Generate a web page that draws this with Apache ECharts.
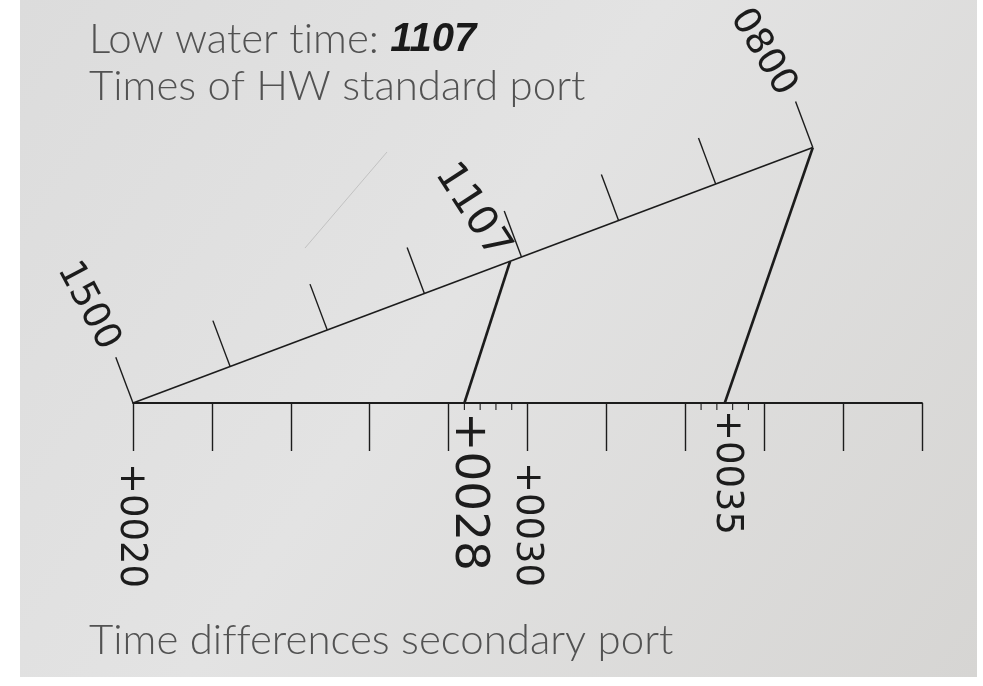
<!DOCTYPE html>
<html>
<head>
<meta charset="utf-8">
<script src="https://cdn.jsdelivr.net/npm/echarts@6/dist/echarts.min.js"></script>
<style>
  html, body { margin: 0; padding: 0; background: #fff; }
  #chart { width: 983px; height: 686px; }
</style>
</head>
<body>
<div id="chart"></div>
<script>
  // bottom scale: time differences at the secondary port (minutes)
  var diffMin = 20
  var diffMax = 40
  var diffStep = 2
  var diffMinorTicks = [28.4, 28.8, 29.2, 29.6, 34.4, 34.8, 35.2, 35.6]
  var diffLabelValues = [20, 28.4, 30, 35]
  var diffLabelTexts = ['+0020', '+0028', '+0030', '+0035']

  // slanted scale: times of HW at the standard port (hours)
  var hwTickHours = [15, 14, 13, 12, 11, 10, 9, 8]
  var hwLabelHours = [15, 11 + 7 / 60, 8]
  var hwLabelTexts = ['1500', '1107', '0800']

  // construction lines: HW time -> time difference
  var linkHours = [8, 11 + 7 / 60]
  var linkDiffs = [35, 28.4]

  // layout of the slanted scale (angle, length per hour in axis units)
  var HW_ANGLE = 20.6 * Math.PI / 180
  var HW_STEP = 2.63
  var INK = '#1c1c1c'
  var FONT = 'DejaVu Sans'
  var ZWNJ = '\u200C' // stops Lato from joining "ti" / "ff"

  function hwPoint (h) {
    var d = (hwTickHours[0] - h) * HW_STEP
    return [diffMin + d * Math.cos(HW_ANGLE), d * Math.sin(HW_ANGLE)]
  }

  // label styling (kept apart from the data)
  var diffLabelStyle = [
    {dx: -2, dy: 60, size: 37},
    {dx: 4, dy: 9, size: 47},
    {dx: -1, dy: 59, size: 37},
    {dx: 2, dy: 7, size: 37}
  ]
  var hwLabelStyle = [
    {dx: -45, dy: -97, size: 37, rot: -62},
    {dx: -38, dy: -50, size: 41, rot: -57},
    {dx: -50, dy: -95, size: 37, rot: -59}
  ]

  var chart = echarts.init(document.getElementById('chart'))

  var series = []

  // slanted HW line
  series.push({
    type: 'line',
    data: [hwPoint(hwTickHours[0]), hwPoint(hwTickHours[hwTickHours.length - 1])],
    symbol: 'none',
    lineStyle: {color: INK, width: 1.6},
    silent: true,
    z: 3
  })

  // construction lines
  linkHours.forEach(function (h, i) {
    series.push({
      type: 'line',
      data: [hwPoint(h), [linkDiffs[i], 0]],
      symbol: 'none',
      lineStyle: {color: INK, width: 2.6},
      silent: true,
      z: 4
    })
  })

  // ticks on slanted scale
  series.push({
    type: 'custom',
    data: hwTickHours.map(hwPoint),
    renderItem: function (params, api) {
      var p = api.coord([api.value(0), api.value(1)])
      var len = 49
      return {
        type: 'line',
        shape: {x1: p[0], y1: p[1], x2: p[0] - len * Math.sin(HW_ANGLE), y2: p[1] - len * Math.cos(HW_ANGLE)},
        style: {stroke: INK, lineWidth: 1.4}
      }
    },
    silent: true,
    z: 3
  })

  // minor ticks on bottom scale
  series.push({
    type: 'custom',
    data: diffMinorTicks.map(function (v) { return [v, 0] }),
    renderItem: function (params, api) {
      var p = api.coord([api.value(0), api.value(1)])
      return {
        type: 'line',
        shape: {x1: p[0], y1: p[1], x2: p[0], y2: p[1] + 7},
        style: {stroke: INK, lineWidth: 1.1}
      }
    },
    silent: true,
    z: 3
  })

  // labels of bottom scale
  series.push({
    type: 'custom',
    data: diffLabelValues.map(function (v, i) { return [v, 0, i] }),
    renderItem: function (params, api) {
      var i = api.value(2)
      var s = diffLabelStyle[i]
      var p = api.coord([api.value(0), api.value(1)])
      return {
        type: 'text',
        x: p[0] + s.dx,
        y: p[1] + s.dy,
        rotation: -Math.PI / 2,
        style: {
          text: diffLabelTexts[i],
          fill: INK,
          fontSize: s.size,
          fontFamily: FONT,
          align: 'left',
          verticalAlign: 'middle'
        }
      }
    },
    silent: true,
    z: 5
  })

  // labels of slanted scale
  series.push({
    type: 'custom',
    data: hwLabelHours.map(function (h, i) { var p = hwPoint(h); return [p[0], p[1], i] }),
    renderItem: function (params, api) {
      var i = api.value(2)
      var s = hwLabelStyle[i]
      var p = api.coord([api.value(0), api.value(1)])
      return {
        type: 'text',
        x: p[0] + s.dx,
        y: p[1] + s.dy,
        rotation: s.rot * Math.PI / 180,
        style: {
          text: hwLabelTexts[i],
          fill: INK,
          fontSize: s.size,
          fontFamily: FONT,
          align: 'center',
          verticalAlign: 'middle'
        }
      }
    },
    silent: true,
    z: 5
  })

  var titleStyle = {fontSize: 42, fontWeight: 300, fontFamily: 'Lato', color: '#525252', lineHeight: 47}

  chart.setOption({
    animation: false,
    backgroundColor: '#ffffff',
    graphic: [
      {
        type: 'rect',
        left: 20,
        top: 0,
        z: -10,
        shape: {width: 957, height: 677},
        style: {
          fill: new echarts.graphic.LinearGradient(0, 0, 1, 1, [
            {offset: 0, color: '#dcdcdc'},
            {offset: 0.45, color: '#e3e3e3'},
            {offset: 1, color: '#d6d5d3'}
          ])
        }
      },
      {
        // faint pencil mark on the paper
        type: 'line',
        z: -9,
        shape: {x1: 305, y1: 248, x2: 387, y2: 152},
        style: {stroke: '#c2c2c2', lineWidth: 1}
      }
    ],
    title: [
      {
        left: 84,
        top: 11,
        text: '{a|Low water t' + ZWNJ + 'ime: }{b|1107}\n{a|Times of HW standard port}',
        textStyle: {
          rich: {
            a: titleStyle,
            b: {fontSize: 40, fontWeight: 'bold', fontStyle: 'italic', fontFamily: 'Liberation Sans', color: '#1a1a1a', lineHeight: 47}
          }
        }
      },
      {
        left: 84,
        top: 612,
        text: 'Time dif' + ZWNJ + 'ferences secondary port',
        textStyle: titleStyle
      }
    ],
    grid: {left: 133, right: 61, top: 8.5, bottom: 283},
    xAxis: {
      type: 'value',
      min: diffMin,
      max: diffMax,
      interval: diffStep,
      axisLine: {show: true, lineStyle: {color: INK, width: 1.8}},
      axisTick: {show: true, length: 48, lineStyle: {color: INK, width: 1.4}},
      axisLabel: {show: false},
      splitLine: {show: false}
    },
    yAxis: {
      type: 'value',
      min: 0,
      max: 10,
      show: false
    },
    series: series
  })
</script>
</body>
</html>
